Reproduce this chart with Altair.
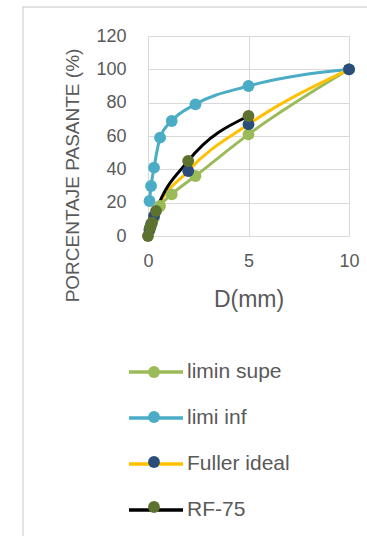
import altair as alt
import pandas as pd

series_names = ["limin supe", "limi inf", "Fuller ideal", "RF-75"]
line_colors = ["#9BBB59", "#4BACC6", "#FFC000", "#000000"]
marker_colors = ["#9BBB59", "#4BACC6", "#2B4D7A", "#5E722F"]

# limin supe
sup_x = [0.075, 0.15, 0.3, 0.6, 1.18, 2.36, 5, 10]
sup_y = [3, 6, 11, 18, 25, 36, 61, 100]
# limi inf
inf_x = [0.075, 0.15, 0.3, 0.6, 1.18, 2.36, 5, 10]
inf_y = [21, 30, 41, 59, 69, 79, 90, 100]
# Fuller ideal
ful_x = [0.075, 0.15, 0.3, 2, 5, 10]
ful_y = [4, 7, 12, 39, 67, 100]
# RF-75
rf_x = [0.0, 0.1, 0.2, 0.4, 2, 5]
rf_y = [0, 5, 8, 15, 45, 72]

x_ticks = [0, 5, 10]
y_ticks = [0, 20, 40, 60, 80, 100, 120]

rows = []
for name, xs, ys in [("limin supe", sup_x, sup_y), ("limi inf", inf_x, inf_y),
                     ("Fuller ideal", ful_x, ful_y), ("RF-75", rf_x, rf_y)]:
    for i, (a, b) in enumerate(zip(xs, ys)):
        rows.append({"series": name, "D": a, "P": b, "idx": i})
df = pd.DataFrame(rows)

FONT = "Liberation Sans"
GREY = "#595959"

x_enc = alt.X("D:Q", scale=alt.Scale(domain=[0, 10], nice=False),
              axis=alt.Axis(values=x_ticks, title="D(mm)", grid=True, gridColor="#d9d9d9",
                            domain=False, ticks=False, labelFontSize=18, labelColor=GREY,
                            labelFont=FONT, labelPadding=16, labelOverlap=False, labelFlush=False,
                            titleFont=FONT, titleFontSize=23,
                            titleColor=GREY, titleFontWeight="normal", titleY=52))
y_enc = alt.Y("P:Q", scale=alt.Scale(domain=[0, 120], nice=False),
              axis=alt.Axis(values=y_ticks, title="PORCENTAJE PASANTE (%)",
                            grid=True, gridColor="#d9d9d9", domain=False, ticks=False,
                            labelFontSize=18, labelColor=GREY, labelFont=FONT, labelPadding=22,
                            labelOverlap=False, labelFlush=False, labelBound=False,
                            titleFont=FONT, titleFontSize=19, titleColor=GREY,
                            titleFontWeight="normal", titleAngle=270, titleX=-76, titleY=139,
                            titleAlign="center", titleBaseline="middle"))

lines = alt.Chart(df).mark_line(strokeWidth=3, interpolate="monotone").encode(
    x=x_enc, y=y_enc,
    stroke=alt.Stroke("series:N", scale=alt.Scale(domain=series_names, range=line_colors),
                      legend=alt.Legend(title=None, orient="none", legendX=-21, legendY=326,
                                        symbolType="stroke", symbolSize=2916, symbolStrokeWidth=3.5,
                                        clipHeight=20, rowPadding=25, padding=0, labelOffset=2,
                                        labelFontSize=21, labelFont=FONT, labelColor=GREY)),
    order="idx:Q",
)

points = alt.Chart(df).mark_circle(size=140, opacity=1).encode(
    x=x_enc, y=y_enc,
    fill=alt.Fill("series:N", scale=alt.Scale(domain=series_names, range=marker_colors),
                  legend=alt.Legend(title=None, orient="none", legendX=0, legendY=326,
                                    symbolType="circle", symbolSize=140, symbolStrokeWidth=0,
                                    symbolOpacity=1, clipHeight=20, rowPadding=25, padding=0,
                                    labelFontSize=1, labelFont=FONT, labelOpacity=0,
                                    labelExpr="''")),
)

frame = alt.Chart(pd.DataFrame({"k": [0]})).mark_rect(fill="transparent", stroke="#d9d9d9",
                                                      strokeWidth=1.5).encode(
    x=alt.value(-125), x2=alt.value(240), y=alt.value(-29), y2=alt.value(520))

chart = alt.layer(frame, lines, points).resolve_scale(stroke="independent", fill="independent").properties(
    width=201, height=200,
    autosize=alt.AutoSizeParams(type="none"),
    padding={"left": 148, "top": 36, "right": 18, "bottom": 300},
    background="white",
).configure_view(stroke=None).configure_axis(labelOverlap=False)

chart.save("out.html", embed_options={"renderer": "svg", "actions": False})
